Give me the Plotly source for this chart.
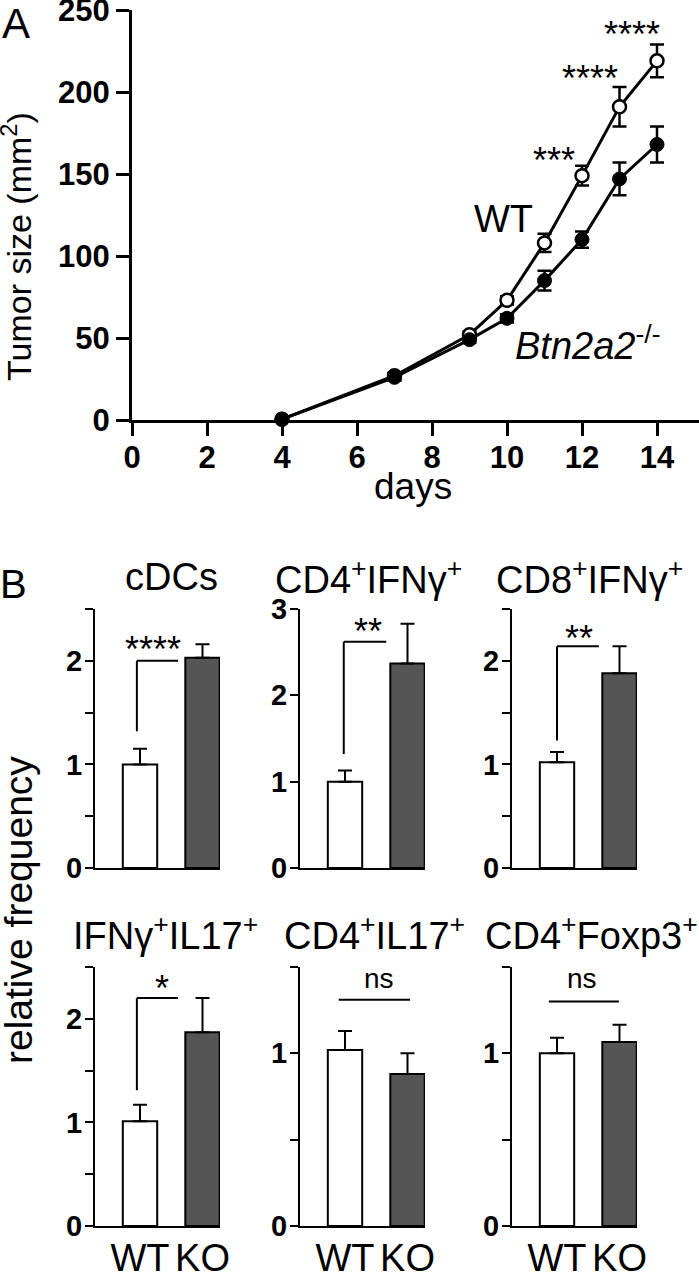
import numpy as np
import plotly.graph_objects as go

# ---------------- data ----------------
# Panel A: tumor growth
days = [4, 7, 9, 10, 11, 12, 13, 14]
wt_size = [0.5, 27, 52, 73, 108, 149, 191, 219]
wt_sem = [1, 2, 2, 2.5, 5.5, 6, 12, 10]
ko_size = [0.5, 26, 49, 62, 85, 110, 147, 168]
ko_sem = [1, 2, 2, 2.5, 6, 5, 10, 11]
a_sig_text = ["***", "****", "****"]
a_sig_x = [11.25, 12.2, 13.33]
a_sig_y = [163, 213, 240]
a_xticks = [0, 2, 4, 6, 8, 10, 12, 14]
a_yticks = [0, 50, 100, 150, 200, 250]

# Panel B: relative frequencies
cells = ["cDCs", "CD4<sup>+</sup>IFNγ<sup>+</sup>", "CD8<sup>+</sup>IFNγ<sup>+</sup>",
         "IFNγ<sup>+</sup>IL17<sup>+</sup>", "CD4<sup>+</sup>IL17<sup>+</sup>", "CD4<sup>+</sup>Foxp3<sup>+</sup>"]
groups = ["WT", "KO"]
wt_freq = [1.00, 1.00, 1.02, 1.01, 1.02, 1.00]
wt_err = [0.15, 0.13, 0.10, 0.16, 0.11, 0.09]
ko_freq = [2.03, 2.37, 1.88, 1.87, 0.88, 1.065]
ko_err = [0.13, 0.46, 0.26, 0.33, 0.12, 0.10]
y_max = [2.5, 3, 2.5, 2.5, 1.5, 1.5]
y_minor = [0.5, None, 0.5, 0.5, 0.5, 0.5]
sig_text = ["****", "**", "**", "*", "ns", "ns"]
brk_low = [1.32, 1.32, 1.23, 1.31, None, None]
brk_top = [2.00, 2.62, 2.14, 2.20, 1.31, 1.30]
brk_x0 = [-0.05, -0.02, 0.0, -0.05, -0.10, -0.13]
brk_x1 = [0.61, 0.66, 0.67, 0.61, 1.04, 0.99]
sig_x = [0.21, 0.37, 0.35, 0.35, 0.54, 0.40]
sig_y = [2.19, 2.83, 2.29, 2.37, 1.42, 1.42]

# ---------------- layout helpers ----------------
W, H = 699, 1273
FONT = "Liberation Sans, Arial, sans-serif"


def fx(p):
    return p / W


def fy(p):
    return 1 - p / H


def paper_text(text, px, py, size, angle=0):
    return dict(text=text, x=fx(px), y=fy(py), xref="paper", yref="paper",
                xanchor="center", yanchor="middle", showarrow=False, textangle=angle,
                font=dict(size=size, family=FONT, color="black"))


fig = go.Figure()

# ---------------- panel A ----------------
fig.add_trace(go.Scatter(
    x=days, y=wt_size, mode="lines+markers", name="WT",
    line=dict(color="black", width=3),
    marker=dict(symbol="circle", size=13, color="white", line=dict(color="black", width=2.5)),
    error_y=dict(type="data", array=wt_sem, color="black", thickness=2.5, width=7),
    cliponaxis=False, xaxis="x", yaxis="y"))
fig.add_trace(go.Scatter(
    x=days, y=ko_size, mode="lines+markers", name="KO",
    line=dict(color="black", width=3),
    marker=dict(symbol="circle", size=14, color="black", line=dict(color="black", width=1)),
    error_y=dict(type="data", array=ko_sem, color="black", thickness=2.5, width=7),
    cliponaxis=False, xaxis="x", yaxis="y"))

layout = dict(
    template="none",
    width=W, height=H, margin=dict(l=0, r=0, t=0, b=0, autoexpand=False),
    paper_bgcolor="white", plot_bgcolor="white", showlegend=False,
    font=dict(family=FONT, color="black"),
    xaxis=dict(domain=[fx(132), 1.0], range=[0, 15.12], tickvals=a_xticks,
               showline=True, linewidth=3, linecolor="black", ticks="outside",
               ticklen=13, tickwidth=3, tickcolor="black", showgrid=False, zeroline=False,
               tickfont=dict(size=31, family=FONT, weight="bold"), ticklabelstandoff=-5,
               anchor="y", automargin=False, ticklabeloverflow="allow"),
    yaxis=dict(domain=[fy(420), fy(10)], range=[0, 250], tickvals=a_yticks,
               showline=True, linewidth=3, linecolor="black", ticks="outside",
               ticklen=13, tickwidth=3, tickcolor="black", showgrid=False, zeroline=False,
               tickfont=dict(size=31, family=FONT, weight="bold"), ticklabelstandoff=0,
               anchor="x", automargin=False, ticklabeloverflow="allow"),
)

annotations = []
shapes = []

for t, xv, yv in zip(a_sig_text, a_sig_x, a_sig_y):
    annotations.append(dict(text=t, x=xv, y=yv, xref="x", yref="y", showarrow=False,
                            xanchor="center", yanchor="middle",
                            font=dict(size=36, family=FONT), yshift=-8))

annotations += [
    paper_text("A", 16, 23, 42),
    paper_text("Tumor size (mm<sup>2</sup>)", 16, 247, 34, -90),
    paper_text("days", 413, 486, 37),
    paper_text("WT", 503, 219, 38),
    paper_text("<i>Btn2a2</i><sup>-/-</sup>", 588, 343, 38),
    paper_text("B", 13, 584, 40),
    paper_text("relative frequency", 18, 910, 39, -90),
]

# ---------------- panel B ----------------
col_left = [95, 300, 512]
col_w = 125
row_px = [(609, 868), (967, 1226)]
title_y = [577, 933]
title_x = [171, 368, 589, 165, 374, 591]

for i in range(6):
    r, c = divmod(i, 3)
    n = i + 2
    xa, ya = f"x{n}", f"y{n}"
    fig.add_trace(go.Bar(
        x=[0, 1], y=[wt_freq[i], ko_freq[i]], width=0.55,
        marker=dict(color=["white", "#555555"], line=dict(color="black", width=2)),
        error_y=dict(type="data", symmetric=False, array=[wt_err[i], ko_err[i]],
                     arrayminus=[0, 0], color="black", thickness=2, width=7),
        xaxis=xa, yaxis=ya, cliponaxis=False))
    top, bot = row_px[r]
    major = list(range(0, int(y_max[i]) + 1))
    yax = dict(
        domain=[fy(bot), fy(top)], range=[0, y_max[i]], tickvals=major,
        showline=True, linewidth=2, linecolor="black", ticks="outside", ticklen=8,
        tickwidth=2, tickcolor="black", showgrid=False, zeroline=False,
        tickfont=dict(size=29, family=FONT, weight="bold"), anchor=xa,
        ticklabelstandoff=-3, automargin=False, ticklabeloverflow="allow")
    if y_minor[i] is not None:
        mv = [float(v) for v in np.round(np.arange(0, y_max[i] + 1e-9, y_minor[i]), 3)
              if abs(v - round(v)) > 1e-9]
        yax["minor"] = dict(tickvals=mv, ticks="outside", ticklen=8, tickwidth=2,
                            tickcolor="black", showgrid=False)
    layout[f"yaxis{n}"] = yax
    layout[f"xaxis{n}"] = dict(
        domain=[fx(col_left[c]), fx(col_left[c] + col_w)], range=[-0.72, 1.28],
        tickvals=[0, 1], ticktext=groups, showticklabels=(r == 1),
        showline=True, linewidth=2, linecolor="black", ticks="", showgrid=False,
        zeroline=False, tickfont=dict(size=38, family=FONT), anchor=ya,
        ticklabelstandoff=-3, automargin=False, ticklabeloverflow="allow")
    # title
    annotations.append(paper_text(cells[i], title_x[i], title_y[r], 38))
    # significance bracket
    if brk_low[i] is not None:
        shapes.append(dict(type="line", xref=xa, yref=ya, x0=brk_x0[i], x1=brk_x0[i],
                           y0=brk_low[i], y1=brk_top[i], line=dict(color="black", width=2)))
    shapes.append(dict(type="line", xref=xa, yref=ya, x0=brk_x0[i], x1=brk_x1[i],
                       y0=brk_top[i], y1=brk_top[i], line=dict(color="black", width=2)))
    is_ns = sig_text[i] == "ns"
    annotations.append(dict(text=sig_text[i], x=sig_x[i], y=sig_y[i], xref=xa, yref=ya,
                            showarrow=False, xanchor="center", yanchor="middle",
                            font=dict(size=28 if is_ns else 36, family=FONT),
                            yshift=2 if is_ns else -8))

layout["annotations"] = annotations
layout["shapes"] = shapes
fig.update_layout(**layout)
fig.write_html("out.html", config={"displayModeBar": False},
               post_script="document.body.style.margin='0';document.body.style.overflow='hidden';")
